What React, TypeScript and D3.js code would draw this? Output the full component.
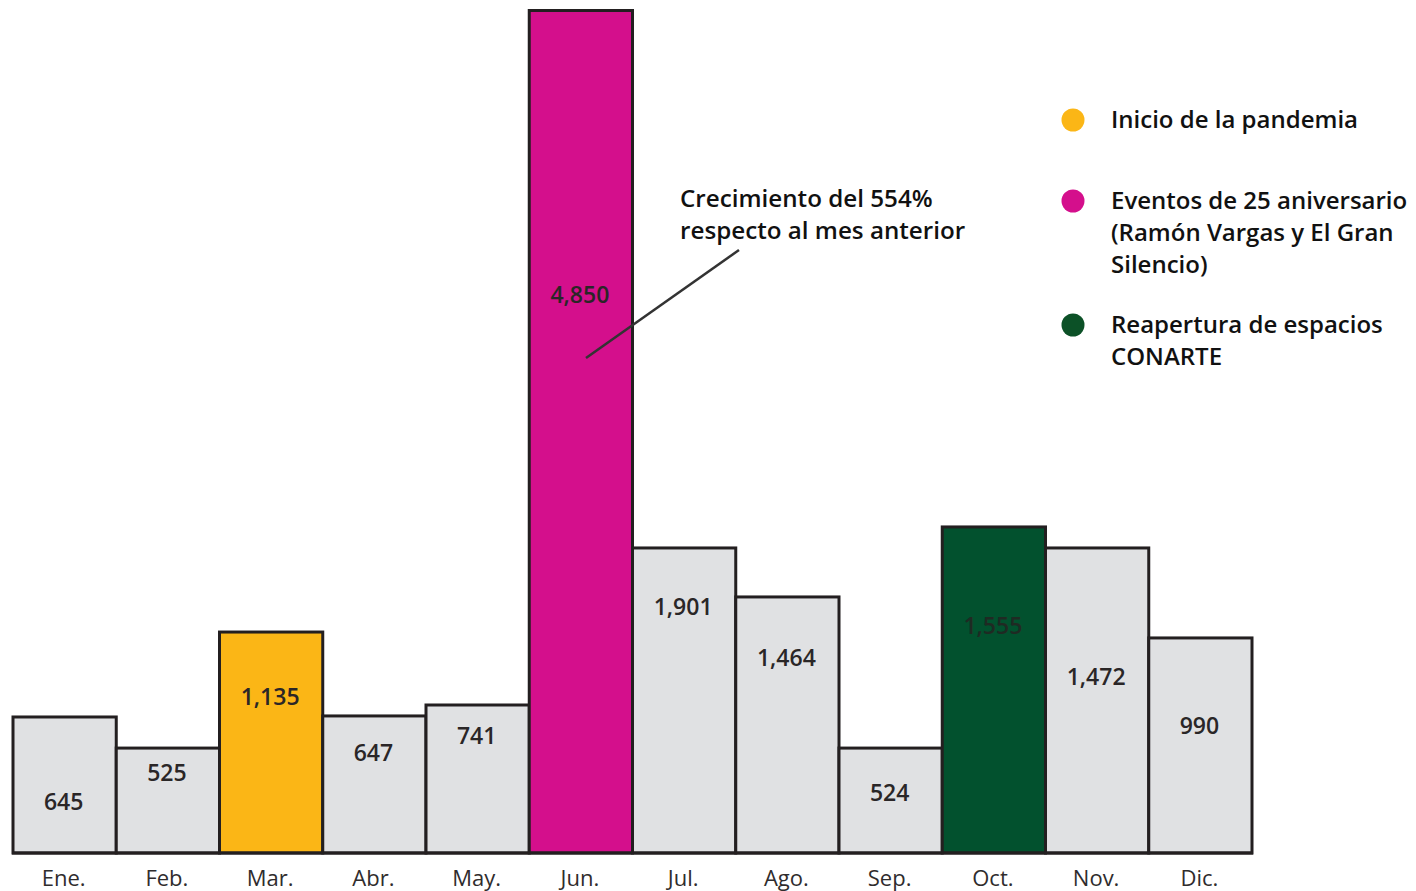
import React from "react";
import * as d3 from "d3";

const months = ["Ene.", "Feb.", "Mar.", "Abr.", "May.", "Jun.", "Jul.", "Ago.", "Sep.", "Oct.", "Nov.", "Dic."];
// Displayed values
const values = [645, 525, 1135, 647, 741, 4850, 1901, 1464, 524, 1555, 1472, 990];
// Bar heights as drawn in the reference (same units, max = 4850)
const drawnHeights = [783, 604, 1272, 789, 852, 4850, 1756, 1474, 604, 1877, 1756, 1238];
// Height at which each value label sits (same units)
const labelLevels = [248, 414, 852, 530, 627, 3166, 1370, 1076, 299, 1261, 967, 685];
const highlight: Record<string, string> = { "Mar.": "#fbb616", "Jun.": "#d40f8c", "Oct.": "#02512e" };

const legendItems = [
  { color: "#fbb616", lines: ["Inicio de la pandemia"] },
  { color: "#d40f8c", lines: ["Eventos de 25 aniversario", "(Ramón Vargas y El Gran", "Silencio)"] },
  { color: "#0c5127", lines: ["Reapertura de espacios", "CONARTE"] },
];
const legendY = [120, 201, 325];
const annotationLines = ["Crecimiento del 554%", "respecto al mes anterior"];

export default function App() {
  const W = 1416, H = 891;
  const x = d3.scaleBand<string>().domain(months).range([13, 1252]).padding(0);
  const y = d3.scaleLinear().domain([0, 4850]).range([853, 10.5]);
  const fmt = d3.format(",");
  const legendFont = "'Open Sans', 'Noto Sans', sans-serif";
  const numFont = "'Open Sans', sans-serif";

  return (
    <svg width={W} height={H} style={{ position: "absolute", left: 0, top: 0, background: "#fff" }}>
      {months.map((m, i) => (
        <rect
          key={m}
          x={x(m)!}
          y={y(drawnHeights[i])}
          width={x.bandwidth()}
          height={y(0) - y(drawnHeights[i])}
          fill={highlight[m] || "#e0e1e3"}
          stroke="#231f20"
          strokeWidth={3}
        />
      ))}
      <line x1={12} x2={1253} y1={y(0)} y2={y(0)} stroke="#231f20" strokeWidth={3} />
      {months.map((m, i) => (
        <text
          key={"v" + m}
          x={x(m)! + x.bandwidth() / 2 - 1}
          y={y(labelLevels[i])}
          textAnchor="middle"
          fontFamily={numFont}
          fontWeight={600}
          fontSize={23}
          fill={m === "Oct." ? "#1f2a23" : "#2a2627"}
        >
          {fmt(values[i])}
        </text>
      ))}
      {months.map((m) => (
        <text
          key={"m" + m}
          x={x(m)! + x.bandwidth() / 2 - 1}
          y={886}
          textAnchor="middle"
          fontFamily={numFont}
          fontSize={22}
          fill="#2f2c2d"
        >
          {m}
        </text>
      ))}
      <line x1={739} y1={250} x2={586} y2={358} stroke="#333" strokeWidth={2.5} />
      {annotationLines.map((t, i) => (
        <text key={t} x={680} y={207 + i * 32} fontFamily={legendFont} fontWeight={600} fontSize={24.2} fill="#111">
          {t}
        </text>
      ))}
      {legendItems.map((item, k) => (
        <g key={k}>
          <circle cx={1073} cy={legendY[k]} r={11.5} fill={item.color} />
          {item.lines.map((t, j) => (
            <text key={j} x={1111} y={legendY[k] + 8 + j * 32} fontFamily={legendFont} fontWeight={600} fontSize={24} fill="#111">
              {t}
            </text>
          ))}
        </g>
      ))}
    </svg>
  );
}
